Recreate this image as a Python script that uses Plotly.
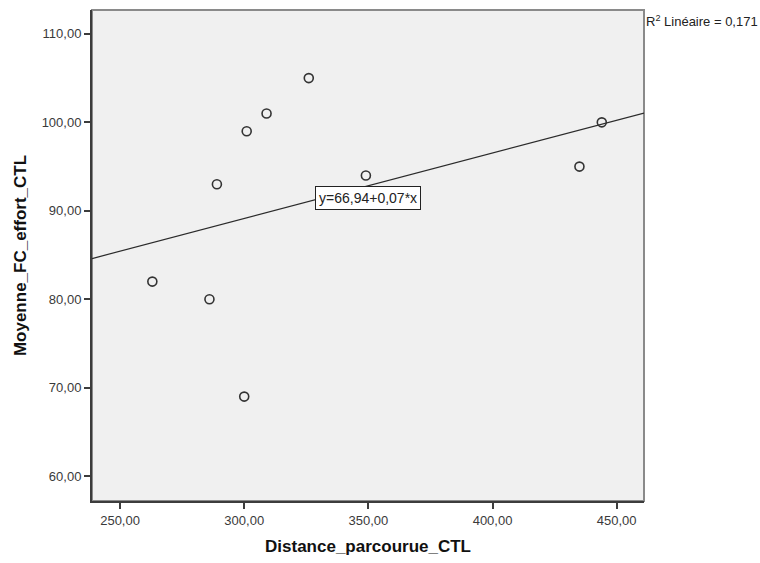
import plotly.graph_objects as go

# Observations: distance covered vs mean heart rate during effort (CTL group)
distance = [263, 286, 289, 300, 301, 309, 326, 349, 435, 444]
fc_moyenne = [82, 80, 93, 69, 99, 101, 105, 94, 95, 100]

# Linear fit coefficients reported for the group
intercept = 66.94
slope = 0.074
r2_lineaire = 0.171

x_range = [238.7, 461.0]
y_range = [57.2, 112.7]
x_ticks = [250, 300, 350, 400, 450]
y_ticks = [60, 70, 80, 90, 100, 110]


def fr(v, nd):
    return f"{v:.{nd}f}".replace(".", ",")


fig = go.Figure()

# Fit line spanning the full x range
fig.add_trace(go.Scatter(
    x=x_range,
    y=[intercept + slope * x for x in x_range],
    mode="lines",
    line=dict(color="#2b2b2b", width=1.2),
    hoverinfo="skip",
    showlegend=False,
))

fig.add_trace(go.Scatter(
    x=distance,
    y=fc_moyenne,
    mode="markers",
    marker=dict(symbol="circle-open", size=9, color="#333333",
                line=dict(width=1.6, color="#333333")),
    showlegend=False,
))

label_x = 350
fig.add_annotation(
    x=label_x, y=91.4, xref="x", yref="y",
    text=f"y={fr(intercept, 2)}+{fr(slope, 2)}*x",
    showarrow=False,
    font=dict(family="Liberation Sans, Arial, sans-serif", size=14, color="#222222"),
    bgcolor="white", bordercolor="#222222", borderwidth=1, borderpad=3,
)

fig.add_annotation(
    x=1.0, y=1.0, xref="paper", yref="paper",
    xanchor="left", yanchor="top", xshift=0, yshift=-1,
    text=f"R<sup>2</sup> Linéaire = {fr(r2_lineaire, 3)}",
    showarrow=False,
    font=dict(family="Liberation Sans, Arial, sans-serif", size=13, color="#222222"),
)

# Lighter frame on top and right of the plotting area
fig.add_shape(type="rect", xref="x domain", yref="y domain",
              x0=0, x1=1, y0=0, y1=1,
              line=dict(color="#8a8a8a", width=2), layer="below")

axis_font = dict(family="Liberation Sans, Arial, sans-serif", size=13, color="#3a3a3a")
title_font = dict(family="Liberation Sans, Arial, sans-serif", size=17, color="#111111")

fig.update_xaxes(
    range=x_range, tickvals=x_ticks, ticktext=[fr(v, 2) for v in x_ticks],
    showgrid=False, zeroline=False,
    showline=True, linecolor="#3c3c3c", linewidth=2,
    ticks="outside", ticklen=6, tickwidth=2, tickcolor="#3c3c3c",
    tickfont=axis_font,
    title=dict(text="<b>Distance_parcourue_CTL</b>", font=title_font, standoff=14),
)
fig.update_yaxes(
    range=y_range, tickvals=y_ticks, ticktext=[fr(v, 2) for v in y_ticks],
    showgrid=False, zeroline=False,
    showline=True, linecolor="#3c3c3c", linewidth=2,
    ticks="outside", ticklen=6, tickwidth=2, tickcolor="#3c3c3c",
    tickfont=axis_font,
    title=dict(text="<b>Moyenne_FC_effort_CTL</b>", font=title_font, standoff=11),
)

fig.update_layout(
    width=760, height=563,
    margin=dict(l=92, r=116, t=10, b=55),
    plot_bgcolor="#f0f0f0",
    paper_bgcolor="white",
    font=dict(family="Liberation Sans, Arial, sans-serif"),
)

fig.write_html("out.html")
